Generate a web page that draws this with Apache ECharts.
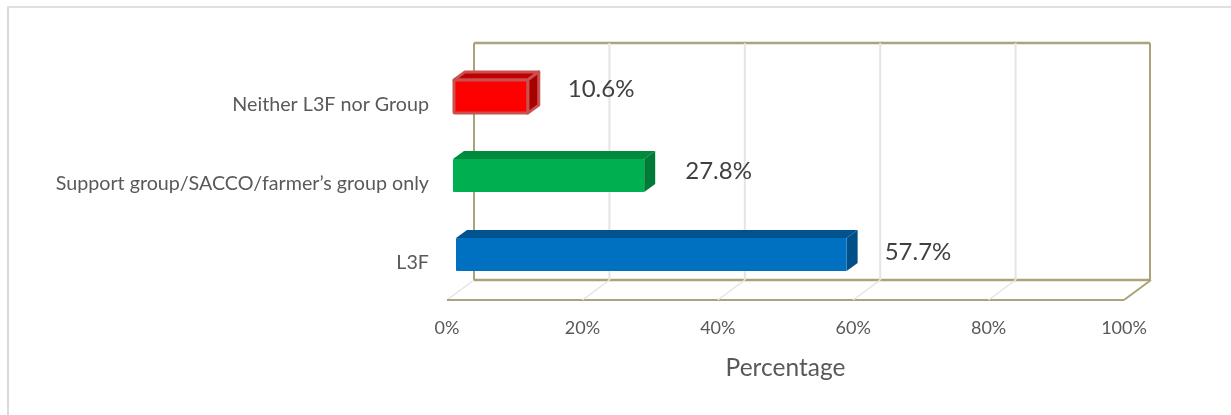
<!DOCTYPE html>
<html>
<head>
<meta charset="utf-8">
<style>html,body{margin:0;padding:0;background:#fff}#c{width:1231px;height:415px}</style>
<script src="https://cdn.jsdelivr.net/npm/echarts@6/dist/echarts.min.js"></script>
</head>
<body>
<div id="c"></div>
<script>
const categories = ["L3F", "Support group/SACCO/farmer\u2019s group only", "Neither L3F nor Group"];
const percentages = [57.7, 27.8, 10.6];
const axisTicks = [0, 20, 40, 60, 80, 100];
const axisTitle = "Percentage";

const faces = [
  {front:"#0070C0", top:"#00538F", side:"#004F88", stroke:"#0070C0", sw:0, lx:38, ly:-2, ls:9},
  {front:"#00B050", top:"#008A3E", side:"#007A37", stroke:"#00B050", sw:0, lx:41, ly:-4, ls:6},
  {front:"#FF0000", top:"#C00000", side:"#A80000", stroke:"#C9504F", sw:3, lx:40, ly:-7, ls:7}
];
const FONT = "Lato";
const wallDX = 27, wallDY = 20, frontDY = 6, barShift = 9, barDX = 11, barDY = 8;
const tan = "#ABA37A", grey = "#E4E4E4";

function line(x1,y1,x2,y2,stroke,w){
  return {type:"line", shape:{x1,y1,x2,y2}, style:{stroke, lineWidth:w, fill:null}};
}
function frameItem(params, api){
  const cs = params.coordSys;
  const t = api.value(0);
  const x = api.coord([t, 0])[0];
  const floorF = cs.y + cs.height + frontDY;
  const floorB = floorF - wallDY;
  const topB = cs.y + frontDY - wallDY;
  const kids = [];
  if (t!==100) kids.push(line(x+wallDX, topB, x+wallDX, floorB, grey, 2));
  kids.push(line(x, floorF, x+wallDX, floorB, t===100?tan:grey, t===100?2:1.5));
  if (t===0){
    const xr = cs.x + cs.width;
    kids.push(line(x+wallDX, topB, x+wallDX, floorB, tan, 2));
    kids.push(line(xr+wallDX-1, topB, xr+wallDX-1, floorB, tan, 2));
    kids.push(line(x+wallDX, topB, xr+wallDX-1, topB, tan, 2.5));
    kids.push(line(x+wallDX, floorB, xr+wallDX-1, floorB, tan, 2.5));
    kids.push(line(x, floorF, xr, floorF, tan, 2));
  }
  return {type:"group", children:kids};
}
function barItem(params, api){
  const v = api.value(0), c = api.value(1);
  const f = faces[params.dataIndex];
  const p0 = api.coord([0, c]), p1 = api.coord([v, c]);
  const h = api.size([0,1])[1] * 0.42;
  const l = p0[0] + f.ls, r = p1[0] + barShift;
  const t = p0[1] - h/2, b = p0[1] + h/2;
  const st = {stroke:f.sw?f.stroke:null, lineWidth:f.sw, lineJoin:"round"};
  return {type:"group", children:[
    {type:"polygon", shape:{points:[[l,t],[l+barDX,t-barDY],[r+barDX,t-barDY],[r,t]]}, style:{fill:f.top, ...st}},
    {type:"polygon", shape:{points:[[r,t],[r+barDX,t-barDY],[r+barDX,b-barDY],[r,b]]}, style:{fill:f.side, ...st}},
    {type:"rect", shape:{x:l,y:t,width:r-l,height:b-t,r:1}, style:{fill:f.front, ...st}},
    {type:"text", style:{x:r+f.lx, y:p0[1]+f.ly, text:v.toFixed(1)+"%", font:"24px "+FONT, fill:"#404040", textAlign:"left", textVerticalAlign:"middle"}}
  ]};
}

const chart = echarts.init(document.getElementById("c"), null, {renderer:"canvas"});
chart.setOption({
  animation:false,
  backgroundColor:"#fff",
  graphic:[
    {type:"line", silent:true, z:-1, shape:{x1:8,y1:6,x2:8,y2:415}, style:{stroke:"#DADADA", lineWidth:2}},
    {type:"line", silent:true, z:-1, shape:{x1:7,y1:7,x2:1231,y2:7}, style:{stroke:"#E0E0E0", lineWidth:2}}
  ],
  grid:{left:447, width:677, top:57, height:237},
  xAxis:{
    type:"value", min:0, max:100, interval:20,
    axisLine:{show:false}, axisTick:{show:false}, splitLine:{show:false},
    axisLabel:{formatter:"{value}%", color:"#595959", fontFamily:FONT, fontSize:18, margin:25},
    name:axisTitle, nameLocation:"middle", nameGap:62,
    nameTextStyle:{color:"#595959", fontFamily:FONT, fontSize:24.5}
  },
  yAxis:{
    type:"category", data:categories,
    axisLine:{show:false}, axisTick:{show:false}, splitLine:{show:false},
    axisLabel:{color:"#595959", fontFamily:FONT, fontSize:19.7, margin:18, verticalAlign:"top", lineHeight:16}
  },
  series:[
    {type:"custom", coordinateSystem:"cartesian2d", renderItem:frameItem, encode:{x:0},
     data:axisTicks.map(t=>[t]), silent:true, z:1, clip:false},
    {type:"custom", coordinateSystem:"cartesian2d", renderItem:barItem, encode:{x:0,y:1},
     data:percentages.map((v,i)=>[v,i]), silent:true, z:3, clip:false}
  ]
});
</script>
</body>
</html>
